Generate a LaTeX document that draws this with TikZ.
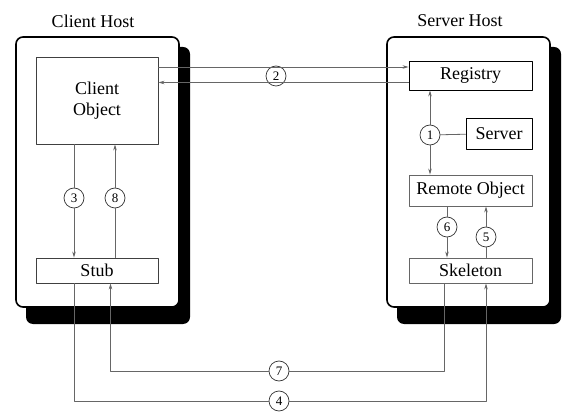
\documentclass[tikz,border=0pt]{standalone}
\usepackage{fontspec}
\setmainfont{Liberation Serif}
\usetikzlibrary{arrows.meta,calc}
\tikzset{
  host/.style={draw=black,line width=1.6pt,fill=white,rounded corners=7pt},
  hshadow/.style={fill=black,rounded corners=7pt},
  hlabel/.style={font=\fontsize{18}{20}\selectfont},
  blk/.style={draw=black!75,line width=0.9pt,fill=white,inner sep=0pt,
              font=\fontsize{18}{21}\selectfont,align=center},
  num/.style={circle,draw=black!80,line width=0.7pt,fill=white,inner sep=0pt,
              minimum size=20pt,font=\fontsize{13}{13}\selectfont},
  arr/.style={draw=black!60,line width=0.8pt,-{Stealth[length=6pt,width=3.5pt]}},
  ln/.style={draw=black!60,line width=0.8pt},
  every picture/.style={line cap=round,line join=round}}

\begin{document}
\begin{tikzpicture}[x=1pt,y=-1pt]
  \useasboundingbox[fill=white] (0,0) rectangle (572,419);
  % hosts
  \fill[hshadow] (26,47) rectangle (190,324);
  \draw[host] (16,37) rectangle (179,307);
  \fill[hshadow] (397,47) rectangle (561,324);
  \draw[host] (387,37) rectangle (550,307);
  \node[hlabel] (lclient) at (93,21){Client Host};
  \node[hlabel] (lserver) at (460,21){Server Host};
  % boxes
  \node[blk,minimum width=122pt,minimum height=87pt] (cobj) at (97,100.5){Client\\Object};
  \node[blk,minimum width=122pt,minimum height=25pt] (stub) at (97,270.5){Stub};
  \node[blk,draw=black,minimum width=123pt,minimum height=29pt] (reg) at (470.5,75.5){Registry};
  \node[blk,draw=black,minimum width=66pt,minimum height=31pt] (srv) at (499,133.5){Server};
  \node[blk,draw=black!60,minimum width=123pt,minimum height=31pt] (robj) at (470.5,190.5){Remote Object};
  \node[blk,draw=black!60,minimum width=123pt,minimum height=25pt] (skel) at (470.5,270.5){Skeleton};
  % step numbers
  \node[num] (c1) at (430,135){1};
  \node[num] (c2) at (276,76){2};
  \node[num] (c3) at (74,198){3};
  \node[num] (c8) at (115,198){8};
  \node[num] (c6) at (447,227){6};
  \node[num] (c5) at (486,237){5};
  \node[num] (c7) at (279,371){7};
  \node[num] (c4) at (279,401){4};
  \coordinate (r2a) at ([yshift=8.5pt]reg.west);
  \coordinate (r2b) at ([yshift=-7pt]reg.west);
  \coordinate (k7) at (444.5,371); \coordinate (s7) at (110.5,371);
  \coordinate (s4) at (74,401);    \coordinate (k4) at (486,401);
  % connectors
  \draw[arr] (r2a -| cobj.east) -- (r2a);
  \draw[arr] (r2b) -- (r2b -| cobj.east);
  \draw[arr] (c1) -- (c1 |- reg.south);
  \draw[arr] (c1) -- (c1 |- robj.north);
  \draw[ln] (c1) -- (srv);
  \draw[arr] (c3 |- cobj.south) -- (c3) -- (c3 |- stub.north);
  \draw[arr] (c8 |- stub.north) -- (c8) -- (c8 |- cobj.south);
  \draw[arr] (c6 |- robj.south) -- (c6) -- (c6 |- skel.north);
  \draw[arr] (c5 |- skel.north) -- (c5) -- (c5 |- robj.south);
  \draw[arr] (k7 |- skel.south) -- (k7) -- (c7) -- (s7) -- (s7 |- stub.south);
  \draw[arr] (s4 |- stub.south) -- (s4) -- (c4) -- (k4) -- (k4 |- skel.south);
\end{tikzpicture}
\end{document}
